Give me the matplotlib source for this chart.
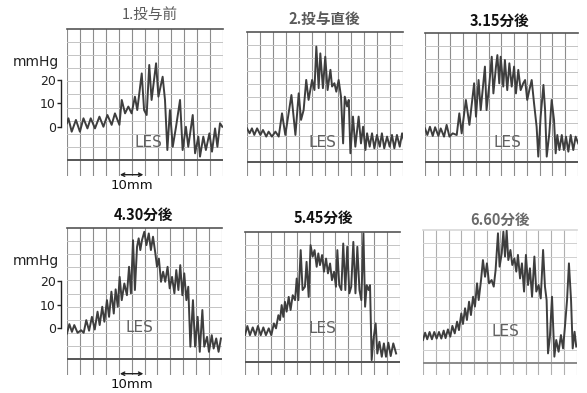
import numpy as np
import matplotlib
matplotlib.use("Agg")
import matplotlib.pyplot as plt

plt.rcParams['font.family'] = ['Noto Sans CJK JP', 'DejaVu Sans']

# Panel titles (time after administration)
titles = ["1.投与前", "2.投与直後", "3.15分後", "4.30分後", "5.45分後", "6.60分後"]

# Pressure traces: x = chart distance (mm), y = pressure (mmHg)
p1_x = [0.0, 0.6, 2.0, 3.8, 5.5, 7.0, 8.7, 10.1, 11.9, 13.8, 15.5, 17.2, 19.0, 20.4, 22.3, 23.3, 24.7,
        26.1, 27.5, 28.9, 29.9, 31.8, 32.8, 33.9, 35.0, 36.0, 37.9, 38.9, 40.7, 41.7, 42.7, 43.8, 45.0,
        46.4, 48.1, 49.2, 50.6, 51.6, 53.5, 54.5, 55.9, 56.6, 58.0, 59.1, 60.6, 61.7, 63.0, 64.0, 65.1, 66.1]
p1_y = [1.6, 3.7, -2.0, 3.0, -2.0, 3.7, -0.6, 3.7, -0.6, 4.4, 0.1, 5.1, 0.9, 5.8, 0.9, 11.5, 5.8,
        8.7, 5.8, 12.9, 7.2, 22.8, 7.2, 5.1, 26.4, 11.5, 27.1, 12.9, 21.4, 11.5, -9.8, 7.2, -8.4,
        0.1, 11.5, -9.8, 0.1, -8.4, 5.1, -11.2, -4.1, -12.6, -4.1, -9.8, -2.7, -10.5, -0.6, -8.4, 1.6, 0.1]

p2_x = [0, 1.1, 2.1, 3.1, 4.3, 5.7, 6.8, 8.2, 9.2, 10.6, 12.1, 13.5, 14.9, 16.3, 18.9, 20.6, 22.0, 23.0,
        24.1, 25.2, 26.2, 27.7, 28.7, 29.5, 30.5, 31.2, 32.3, 33.3, 34.3, 35.5, 36.2, 37.2, 38.0, 39.0,
        40.0, 40.9, 41.6, 42.6, 43.3, 44.0, 45.1, 46.1, 47.5, 48.5, 49.4, 50.4, 51.1, 52.2, 53.2, 54.2,
        55.3, 56.5, 57.4, 58.4, 59.6, 60.7, 61.7, 62.7, 63.8, 65.0, 66.0, 66.7]
p2_y = [-0.6, -2.7, -0.6, -3.4, -0.6, -3.4, -1.3, -4.1, -2.0, -4.1, -2.0, -4.1, 5.8, -3.4, 13.6, -3.4,
        14.3, 3.0, 7.2, 20.0, 11.5, 20.0, 15.7, 34.2, 16.5, 31.3, 16.5, 29.9, 15.7, 24.3, 17.2, 18.6,
        15.0, 20.0, 12.9, -7.0, 12.9, 8.7, 11.5, -11.2, 4.4, -8.4, 4.4, -7.0, 0.1, -9.8, -2.7, -8.4,
        -2.7, -9.1, -3.4, -8.4, -2.7, -9.1, -4.1, -8.4, -3.4, -9.1, -3.4, -8.4, -2.7, -5.5]

p3_x = [0, 1.0, 2.1, 3.3, 4.3, 5.7, 6.7, 8.1, 9.2, 10.4, 11.8, 13.5, 14.6, 15.6, 17.4, 18.9, 20.9, 21.7,
        22.8, 23.7, 25.5, 26.2, 27.4, 28.4, 29.1, 30.2, 30.8, 31.6, 32.2, 33.3, 34.0, 35.0, 35.9, 36.9,
        37.9, 38.7, 39.7, 40.7, 41.8, 42.6, 43.5, 44.4, 45.4, 46.4, 47.5, 48.2, 49.2, 50.4, 51.1, 51.8,
        52.9, 53.9, 54.9, 55.6, 56.3, 57.2, 58.2, 59.1, 60.0, 61.0, 62.0, 63.1, 64.1, 65.2]
p3_y = [-0.6, -3.4, 0.1, -3.8, -0.1, -3.8, -0.6, -4.1, 0.9, -4.1, -2.7, -3.4, 5.8, -2.7, 11.5, 0.9,
        18.6, 4.4, 20.0, 7.2, 25.7, 7.2, 18.6, 29.9, 14.3, 25.7, 30.6, 18.6, 29.9, 17.2, 28.5, 15.7,
        27.1, 17.2, 25.7, 14.3, 24.3, 15.7, 18.6, 20.0, 11.5, 15.7, 20.0, 10.1, 0.1, -12.6, 4.4, 17.9,
        7.2, -12.6, -2.7, 11.5, 3.0, -11.2, -3.4, -9.8, -3.4, -9.8, -4.1, -10.5, -3.4, -9.8, -4.1, -7.0]

p4_x = [0, 1.0, 2.1, 3.1, 4.5, 6.0, 7.1, 8.2, 9.4, 10.6, 11.8, 13.0, 13.9, 15.0, 15.9, 17.0, 17.9, 18.9,
        19.9, 20.7, 21.6, 22.4, 23.3, 24.4, 25.5, 26.4, 27.2, 28.1, 28.9, 29.8, 30.5, 31.2, 31.9, 32.9,
        33.8, 34.8, 35.7, 36.6, 37.6, 38.3, 39.1, 40.0, 40.9, 41.8, 42.8, 43.7, 44.7, 45.7, 46.5, 47.4,
        48.2, 49.1, 49.9, 50.8, 51.6, 52.5, 53.6, 54.5, 55.6, 56.5, 57.6, 58.4, 59.6, 60.4, 61.6, 62.4,
        63.5, 64.5, 65.5]
p4_y = [-2.3, 1.7, -1.6, 1.3, -2.0, -0.9, -2.0, 3.4, -1.1, 4.8, -0.6, 7.0, 1.3, 9.1, 2.7, 11.9, 4.8,
        15.5, 6.2, 16.5, 9.1, 21.8, 11.9, 19.0, 14.0, 26.1, 14.8, 37.4, 16.2, 34.6, 38.2, 33.2, 37.4,
        41.0, 35.3, 40.3, 33.2, 38.9, 31.8, 26.1, 29.6, 19.7, 24.0, 19.7, 26.1, 16.9, 21.8, 14.8, 24.7,
        16.2, 26.8, 14.0, 23.3, 11.9, 17.6, -7.9, 11.9, -7.9, 4.8, -10.1, 7.7, -7.9, -3.7, -10.1, -3.0,
        -8.7, -4.4, -10.1, -4.4]

p5_x = [0, 1.0, 2.1, 3.3, 4.4, 5.5, 6.7, 7.8, 8.9, 10.1, 11.2, 12.3, 13.2, 14.2, 14.9, 15.6, 16.3, 17.0,
        17.7, 18.6, 19.4, 20.3, 21.3, 22.0, 22.7, 23.7, 24.5, 25.5, 26.2, 27.1, 27.9, 28.8, 29.6, 30.5,
        31.2, 31.9, 32.8, 33.6, 34.5, 35.3, 36.2, 37.0, 37.9, 38.7, 39.3, 40.1, 41.0, 41.8, 42.7, 43.5,
        44.4, 45.2, 46.1, 47.0, 47.8, 48.7, 49.5, 50.4, 51.1, 51.8, 52.6, 53.2, 53.9, 54.6, 55.6, 56.3,
        57.2, 58.2, 59.1, 60.0, 61.0, 62.0, 63.1, 64.3]
p5_y = [-3.0, 0.9, -3.0, 0.3, -3.0, 0.9, -3.0, 0.3, -3.0, -0.1, -3.0, 2.0, -0.1, 5.5, 3.4, 9.8, 4.8,
        11.2, 7.0, 13.3, 7.7, 14.0, 11.9, 21.1, 11.9, 33.2, 16.2, 17.6, 28.2, 13.3, 35.3, 30.4, 33.2,
        26.1, 31.8, 26.8, 31.1, 24.0, 29.6, 23.3, 27.5, 20.4, 24.0, 17.6, 33.2, 18.3, 16.2, 36.0, 16.2,
        34.6, 14.8, 17.6, 36.7, 14.8, 34.6, 16.2, 11.9, 40.3, 9.1, 18.3, 16.2, 18.3, -13.6, -5.1, 2.0,
        -10.8, -5.8, -12.2, -6.5, -12.2, -6.2, -11.9, -6.5, -10.8]

p6_x = [0, 0.9, 1.8, 2.8, 3.8, 4.8, 5.8, 6.8, 7.8, 8.8, 9.6, 10.6, 11.6, 12.5, 13.5, 14.5, 15.3, 16.3,
        17.0, 17.9, 18.7, 19.6, 20.4, 21.3, 22.1, 23.0, 23.7, 24.7, 25.5, 26.4, 27.2, 28.1, 29.2, 30.1,
        30.9, 31.9, 32.6, 33.5, 34.2, 34.9, 35.6, 36.3, 37.2, 38.0, 38.9, 39.7, 40.4, 41.3, 42.1, 43.0,
        43.8, 44.7, 45.5, 46.4, 47.4, 48.2, 49.2, 50.1, 51.1, 51.9, 52.6, 53.2, 54.0, 54.9, 55.9, 56.7,
        57.7, 58.7, 59.6, 60.4, 61.3, 62.1, 63.0, 63.7, 64.5, 65.2]
p6_y = [-5.1, -2.0, -4.8, -1.7, -4.8, -1.7, -4.5, -1.7, -4.5, -1.1, -4.3, -0.6, -3.7, 0.9, -2.3, 2.7,
        -0.9, 6.2, 1.7, 8.4, 3.4, 11.2, 5.5, 13.3, 9.1, 19.0, 11.9, 20.4, 28.9, 21.8, 27.5, 19.0, 20.4,
        17.6, 24.7, 40.3, 26.1, 31.8, 41.0, 30.4, 41.4, 28.9, 33.2, 26.8, 29.6, 24.0, 31.1, 21.1, 27.5,
        15.5, 31.1, 18.3, 25.4, 13.3, 30.4, 15.5, 18.3, 12.6, 33.2, 17.6, 11.9, -10.8, -3.7, 13.3, -12.2,
        -5.1, -10.1, -3.0, -8.7, 0.6, 11.9, 27.5, 11.9, -8.7, -1.6, -7.9]

traces = [(p1_x, p1_y), (p2_x, p2_y), (p3_x, p3_y), (p4_x, p4_y), (p5_x, p5_y), (p6_x, p6_y)]

# Layout of each strip: left/top in pixels, x extent, y limits and the heavy baseline level
W, H = 587, 393
PX = 2.35  # pixels per mm (and per mmHg)
panels = [
    dict(left=67, top=29, xmax=66.4, ytop=41.7, ybot=-20.9, base=-14.0, les=(34.5, -6.4), unit_y=27.7),
    dict(left=247, top=32, xmax=66.4, ytop=40.4, ybot=-20.9, base=-14.9, les=(32.0, -6.8)),
    dict(left=425, top=33, xmax=65.1, ytop=40.0, ybot=-20.9, base=-14.9, les=(35.0, -6.8)),
    dict(left=67, top=228, xmax=66.0, ytop=42.6, ybot=-20.0, base=-13.2, les=(31.0, 0.4), unit_y=28.5),
    dict(left=245, top=232, xmax=66.0, ytop=40.9, ybot=-20.0, base=-14.5, les=(33.0, 0.0)),
    dict(left=423, top=230, xmax=65.5, ytop=41.7, ybot=-20.0, base=-14.9, les=(35.0, -1.3)),
]
title_pos = [(150, 15), (324, 19), (500, 21), (143, 215), (323, 218), (500, 220)]
title_style = [("#5a5a5a", "normal"), ("#5a5a5a", "bold"), ("#111111", "bold"),
               ("#111111", "bold"), ("#111111", "bold"), ("#6a6a6a", "bold")]

fig = plt.figure(figsize=(W / 100, H / 100), dpi=100)
fig.patch.set_facecolor("white")

for i, (p, (tx, ty)) in enumerate(zip(panels, traces)):
    w_px = p["xmax"] * PX
    h_px = (p["ytop"] - p["ybot"]) * PX
    ax = fig.add_axes([p["left"] / W, 1 - (p["top"] + h_px) / H, w_px / W, h_px / H])
    ax.set_xlim(0, p["xmax"])
    ax.set_ylim(p["ybot"], p["ytop"])
    ax.patch.set_alpha(0)
    faint = (i == 5)

    # chart paper grid
    vcol = "#b0b0b0" if faint else "#8c8c8c"
    for xv in np.linspace(0, p["xmax"], 13):
        ax.axvline(xv, color=vcol, lw=0.8, zorder=1)
    for yv in np.linspace(p["base"], p["ytop"], 11)[1:-1]:
        ax.axhline(yv, color="#d0d0d0" if faint else "#c4c4c4", lw=0.7, zorder=1)
    ax.axhline(p["base"], color="#8a8a8a" if faint else "#555555", lw=1.4, zorder=1)

    for s in ["left", "right", "bottom"]:
        ax.spines[s].set_visible(False)
    ax.spines["top"].set_color("#d8d8d8" if faint else "#555555")
    ax.spines["top"].set_linewidth(1.2)
    ax.set_xticks([])
    ax.set_yticks([])

    ax.plot(tx, ty, color="#3e3e3e", lw=1.4, solid_joinstyle="round", zorder=3)

    ax.text(p["les"][0], p["les"][1], "LES", ha="center", va="center", fontsize=11,
            color="#626262", family="DejaVu Sans", zorder=4)

    if i in (0, 3):
        ax.spines["left"].set_visible(True)
        ax.spines["left"].set_bounds(0, 20)
        ax.spines["left"].set_position(("outward", 4))
        ax.spines["left"].set_color("#222222")
        ax.spines["left"].set_linewidth(1.0)
        ax.set_yticks([0, 10, 20])
        ax.tick_params(axis="y", direction="out", length=3, width=1.0, pad=1,
                       labelsize=9, colors="#222222")
        for lab in ax.get_yticklabels():
            lab.set_family("DejaVu Sans")
        ax.text(-0.2, p["unit_y"], "mmHg", transform=ax.get_yaxis_transform(),
                ha="center", va="center", fontsize=10, family="DejaVu Sans", color="#222222")
        ya = p["ybot"] + 0.6
        ax.annotate("", xy=(22.5, ya), xytext=(32.5, ya),
                    arrowprops=dict(arrowstyle="<->", lw=1.0, color="#222222",
                                    mutation_scale=6, shrinkA=0, shrinkB=0),
                    annotation_clip=False)
        ax.text(27.6, ya - 4.6, "10mm", ha="center", va="center", fontsize=9.5,
                family="DejaVu Sans", color="#111111", clip_on=False)

    col, wt = title_style[i]
    fig.text(title_pos[i][0] / W, 1 - title_pos[i][1] / H, titles[i], ha="center", va="center",
             fontsize=10.5, color=col, fontweight=wt)

fig.savefig("out.png", dpi=100, facecolor="white")
